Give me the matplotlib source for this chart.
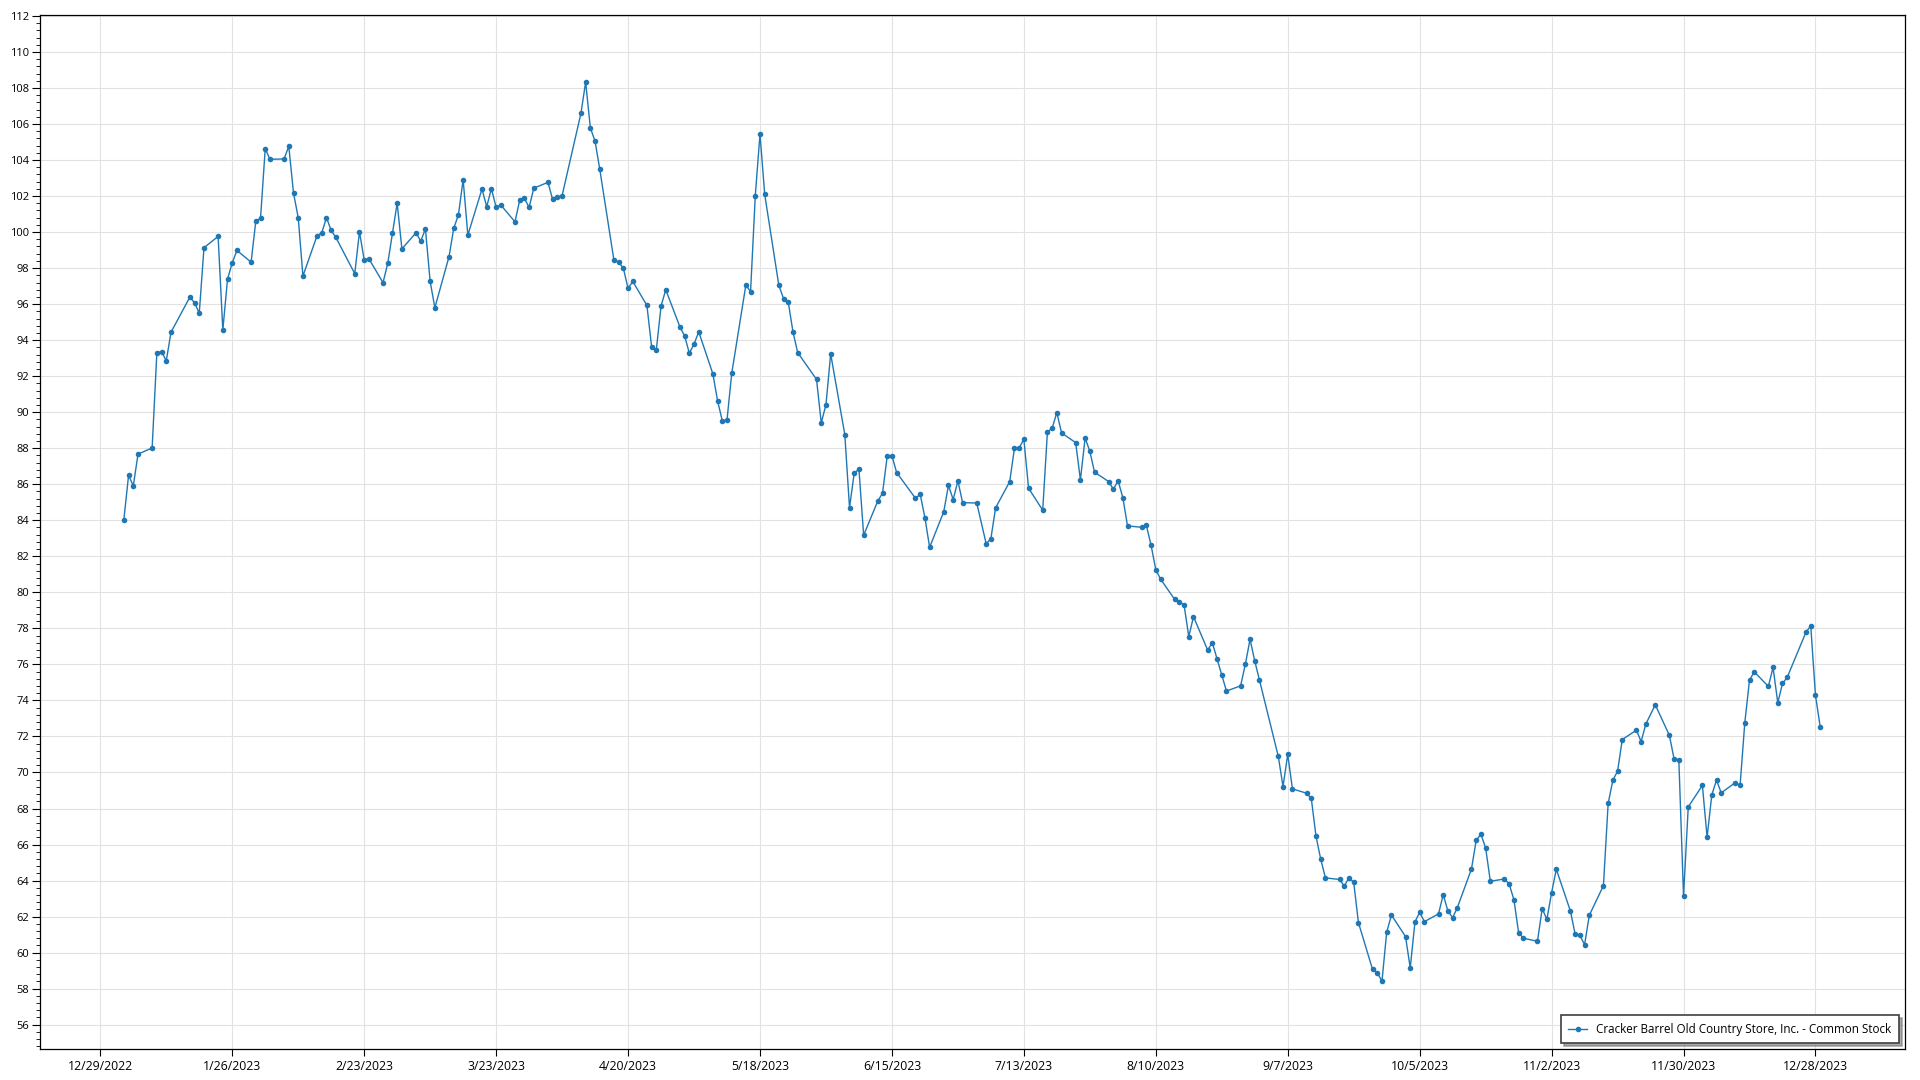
import pandas as pd
import matplotlib
matplotlib.use("Agg")
import matplotlib.pyplot as plt
from matplotlib.ticker import MultipleLocator

# NYSE holidays 2023 (trading calendar for the x values)
holidays = ["2023-01-02", "2023-01-16", "2023-02-20", "2023-04-07", "2023-05-29",
            "2023-06-19", "2023-07-04", "2023-09-04", "2023-11-23", "2023-12-25"]

# closing prices, one list per month
jan = [84.04, 86.50, 85.91, 87.67, 88.02, 93.30, 93.37, 92.85, 94.44, 96.39,
       96.07, 95.50, 99.13, 99.76, 94.56, 97.39, 98.30, 98.98, 98.33, 100.61]
feb = [100.76, 104.63, 104.04, 104.06, 104.76, 102.17, 100.80, 97.56, 99.80, 99.96,
       100.80, 100.09, 99.70, 97.69, 100.02, 98.46, 98.52, 97.19, 98.26]
mar = [99.94, 101.61, 99.07, 99.96, 99.50, 100.17, 97.26, 95.80, 98.63, 100.20,
       100.96, 102.91, 99.83, 102.39, 101.41, 102.41, 101.37, 101.50, 100.57, 101.76,
       101.87, 101.37, 102.44]
apr = [102.76, 101.81, 101.93, 102.02, 106.59, 108.33, 105.78, 105.04, 103.48, 98.44,
       98.33, 98.00, 96.87, 97.26, 95.93, 93.63, 93.46, 95.89, 96.80]
may = [94.74, 94.24, 93.28, 93.78, 94.46, 92.13, 90.63, 89.52, 89.57, 92.15,
       97.06, 96.69, 102.02, 105.44, 102.09, 97.04, 96.31, 96.11, 94.46, 93.31,
       91.82, 89.41]
jun = [90.41, 93.24, 88.76, 84.70, 86.63, 86.83, 83.17, 85.07, 85.50, 87.56,
       87.59, 86.65, 85.22, 85.44, 84.15, 82.50, 84.48, 85.94, 85.15, 86.19, 84.98]
jul = [84.96, 82.70, 82.98, 84.69, 86.15, 88.00, 88.02, 88.50, 85.78, 84.56,
       88.91, 89.11, 89.98, 88.85, 88.31, 86.24, 88.57, 87.83, 86.67, 86.15]
aug = [85.72, 86.20, 85.26, 83.69, 83.61, 83.72, 82.61, 81.26, 80.74, 79.61,
       79.46, 79.30, 77.54, 78.65, 76.80, 77.20, 76.31, 75.43, 74.52, 74.81,
       76.00, 77.39, 76.19]
sep = [75.13, 70.89, 69.22, 71.00, 69.09, 68.85, 68.56, 66.46, 65.19, 64.15,
       64.06, 63.70, 64.15, 63.91, 61.67, 59.07, 58.89, 58.41, 61.13, 62.09]
oct_ = [60.89, 59.15, 61.70, 62.24, 61.72, 62.15, 63.22, 62.30, 61.94, 62.50,
        64.65, 66.24, 66.57, 65.81, 63.96, 64.09, 63.80, 62.94, 61.11, 60.80,
        60.63, 62.44]
nov = [61.85, 63.33, 64.63, 62.30, 61.02, 60.96, 60.44, 62.07, 63.72, 68.28,
       69.57, 70.07, 71.83, 72.35, 71.72, 72.69, 73.76, 72.06, 70.74, 70.72, 63.15]
dec = [68.09, 69.28, 66.41, 68.76, 69.57, 68.87, 69.44, 69.28, 72.76, 75.13,
       75.59, 74.78, 75.83, 73.87, 74.94, 75.28, 77.80, 78.13, 74.28, 72.54]

prices = jan + feb + mar + apr + may + jun + jul + aug + sep + oct_ + nov + dec
dates = pd.bdate_range("2023-01-01", "2023-12-31", freq="C", holidays=holidays)
assert len(dates) == len(prices)

tick_dates = pd.date_range("2022-12-29", periods=14, freq="28D")
series_name = "Cracker Barrel Old Country Store, Inc. - Common Stock"

plt.rcParams['font.family'] = ['Open Sans', 'DejaVu Sans']

fig = plt.figure(figsize=(19.2, 10.8), dpi=100)
ax = fig.add_axes([40 / 1920, 1 - 1049 / 1080, 1865 / 1920, 1034 / 1080])

ax.plot(dates, prices, color="#1f77b4", lw=1.0, marker="o", markersize=4.0,
        markeredgewidth=0, label=series_name)

ax.set_ylim(54.65, 112.05)
ax.set_xlim(pd.Timestamp("2022-12-29") - pd.Timedelta(days=12.8),
            pd.Timestamp("2022-12-29") + pd.Timedelta(days=383.0))

ax.yaxis.set_major_locator(MultipleLocator(2))
ax.yaxis.set_minor_locator(MultipleLocator(0.4))
ax.set_xticks(tick_dates)
ax.set_xticklabels([f"{d.month}/{d.day}/{d.year}" for d in tick_dates])

ax.tick_params(axis="y", which="major", length=6, width=0.8, labelsize=8, pad=2)
ax.tick_params(axis="y", which="minor", length=3, width=0.6)
ax.tick_params(axis="x", which="major", length=5, width=0.8, labelsize=8.8, pad=3)

ax.grid(True, which="major", color="#e2e2e2", lw=0.8)
ax.set_axisbelow(True)
for s in ax.spines.values():
    s.set_color("black")
    s.set_linewidth(0.9)

leg = ax.legend(loc="lower right", fontsize=8.4, frameon=True, fancybox=False,
                edgecolor="#404040", borderaxespad=0.5, borderpad=0.65,
                handlelength=1.6, shadow={"color": "0.45", "alpha": 0.6})
leg.get_frame().set_linewidth(1.2)

fig.savefig("out.png", dpi=100)
